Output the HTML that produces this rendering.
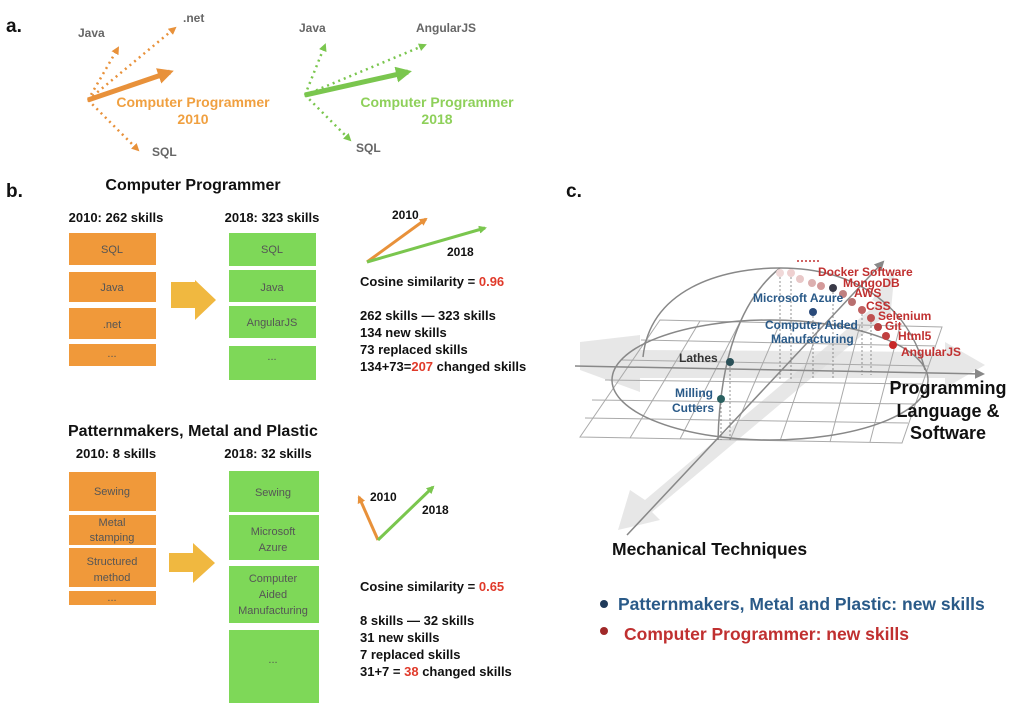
<!DOCTYPE html>
<html><head><meta charset="utf-8"><style>
body{margin:0;background:#fff;}
svg{display:block;font-family:"Liberation Sans",sans-serif;}
.b{font-weight:bold;}
</style></head><body>
<svg width="1018" height="705" viewBox="0 0 1018 705">
<defs>
<marker id="ao" markerWidth="8" markerHeight="8" refX="6" refY="4" orient="auto" markerUnits="userSpaceOnUse"><path d="M0,0 L8,4 L0,8z" fill="#e8913a"/></marker>
<marker id="ag" markerWidth="8" markerHeight="8" refX="6" refY="4" orient="auto" markerUnits="userSpaceOnUse"><path d="M0,0 L8,4 L0,8z" fill="#7ac64e"/></marker>
<marker id="ao2" markerWidth="16" markerHeight="16" refX="12" refY="8" orient="auto" markerUnits="userSpaceOnUse"><path d="M0,0 L16,8 L0,16z" fill="#e8913a"/></marker>
<marker id="ag2" markerWidth="16" markerHeight="16" refX="12" refY="8" orient="auto" markerUnits="userSpaceOnUse"><path d="M0,0 L16,8 L0,16z" fill="#7ac64e"/></marker>
<marker id="gr" markerWidth="10" markerHeight="10" refX="8" refY="5" orient="auto" markerUnits="userSpaceOnUse"><path d="M0,0 L10,5 L0,10z" fill="#888"/></marker>
</defs>
<g class="b" font-size="19" fill="#111"><text x="6" y="32">a.</text><text x="6" y="197">b.</text><text x="566" y="197">c.</text></g>

<!-- a -->
<g stroke="#e8913a" fill="none">
<line x1="88" y1="100" x2="118" y2="48" stroke-width="2.5" stroke-dasharray="2,4" marker-end="url(#ao)"/>
<line x1="88" y1="100" x2="175" y2="28" stroke-width="2.5" stroke-dasharray="2,4" marker-end="url(#ao)"/>
<line x1="88" y1="100" x2="138" y2="150" stroke-width="2.5" stroke-dasharray="2,4" marker-end="url(#ao)"/>
<line x1="88" y1="100" x2="170" y2="72" stroke-width="5" marker-end="url(#ao2)"/>
</g>
<g stroke="#7ac64e" fill="none">
<line x1="305" y1="95" x2="325" y2="45" stroke-width="2.5" stroke-dasharray="2,4" marker-end="url(#ag)"/>
<line x1="305" y1="95" x2="425" y2="45" stroke-width="2.5" stroke-dasharray="2,4" marker-end="url(#ag)"/>
<line x1="305" y1="95" x2="350" y2="140" stroke-width="2.5" stroke-dasharray="2,4" marker-end="url(#ag)"/>
<line x1="305" y1="95" x2="408" y2="72" stroke-width="5" marker-end="url(#ag2)"/>
</g>
<g class="b" font-size="12" fill="#666">
<text x="78" y="37">Java</text><text x="183" y="22">.net</text><text x="152" y="156">SQL</text>
<text x="299" y="32">Java</text><text x="416" y="32">AngularJS</text><text x="356" y="152">SQL</text>
</g>
<g class="b" font-size="14" text-anchor="middle">
<text x="193" y="107" fill="#f0a040">Computer Programmer</text><text x="193" y="124" fill="#f0a040">2010</text>
<text x="437" y="107" fill="#8ed05a">Computer Programmer</text><text x="437" y="124" fill="#8ed05a">2018</text>
</g>

<!-- b top -->
<g class="b" font-size="16" fill="#111">
<text x="193" y="190" text-anchor="middle">Computer Programmer</text>
<text x="116" y="222" text-anchor="middle" font-size="13">2010: 262 skills</text>
<text x="272" y="222" text-anchor="middle" font-size="13">2018: 323 skills</text>
</g>
<g fill="#f0993a"><rect x="69" y="233" width="87" height="32"/><rect x="69" y="272" width="87" height="30"/><rect x="69" y="308" width="87" height="31"/><rect x="69" y="344" width="87" height="22"/></g>
<g fill="#7ed858"><rect x="229" y="233" width="87" height="33"/><rect x="229" y="270" width="87" height="32"/><rect x="229" y="306" width="87" height="32"/><rect x="229" y="346" width="87" height="34"/></g>
<g font-size="11" text-anchor="middle" fill="#555">
<text x="112" y="253">SQL</text><text x="112" y="291">Java</text><text x="112" y="328">.net</text><text x="112" y="357">...</text>
<text x="272" y="253">SQL</text><text x="272" y="291">Java</text><text x="272" y="326">AngularJS</text><text x="272" y="360">...</text>
</g>
<path d="M171,282 H195 V280 L216,300 L195,320 V308 H171z" fill="#f0b840"/>
<line x1="367" y1="262" x2="426" y2="219" stroke="#e8913a" stroke-width="3" marker-end="url(#ao)"/>
<line x1="367" y1="262" x2="485" y2="228" stroke="#7ac64e" stroke-width="3" marker-end="url(#ag)"/>
<g class="b" font-size="13" fill="#111">
<text x="392" y="219" font-size="12">2010</text><text x="447" y="256" font-size="12">2018</text>
<text x="360" y="286">Cosine similarity = <tspan fill="#e03a2a">0.96</tspan></text>
<text x="360" y="320">262 skills — 323 skills</text>
<text x="360" y="337">134 new skills</text>
<text x="360" y="354">73 replaced skills</text>
<text x="360" y="371">134+73=<tspan fill="#e03a2a">207</tspan> changed skills</text>
</g>

<!-- b bottom -->
<g class="b" font-size="16" fill="#111">
<text x="68" y="436">Patternmakers, Metal and Plastic</text>
<text x="116" y="458" text-anchor="middle" font-size="13">2010: 8 skills</text>
<text x="268" y="458" text-anchor="middle" font-size="13">2018: 32 skills</text>
</g>
<g fill="#f0993a"><rect x="69" y="472" width="87" height="39"/><rect x="69" y="515" width="87" height="30"/><rect x="69" y="548" width="87" height="39"/><rect x="69" y="591" width="87" height="14"/></g>
<g fill="#7ed858"><rect x="229" y="471" width="90" height="41"/><rect x="229" y="515" width="90" height="45"/><rect x="229" y="566" width="90" height="57"/><rect x="229" y="630" width="90" height="73"/></g>
<g font-size="11" text-anchor="middle" fill="#555">
<text x="112" y="495">Sewing</text><text x="112" y="526">Metal</text><text x="112" y="541">stamping</text>
<text x="112" y="565">Structured</text><text x="112" y="581">method</text><text x="112" y="601">...</text>
<text x="273" y="496">Sewing</text><text x="273" y="535">Microsoft</text><text x="273" y="551">Azure</text>
<text x="273" y="582">Computer</text><text x="273" y="598">Aided</text><text x="273" y="614">Manufacturing</text><text x="273" y="663">...</text>
</g>
<path d="M169,553 H193 V543 L215,563 L193,583 V572 H169z" fill="#f0b840"/>
<line x1="378" y1="540" x2="359" y2="497" stroke="#e8913a" stroke-width="3" marker-end="url(#ao)"/>
<line x1="378" y1="540" x2="433" y2="487" stroke="#7ac64e" stroke-width="3" marker-end="url(#ag)"/>
<g class="b" font-size="13" fill="#111">
<text x="370" y="501" font-size="12">2010</text><text x="422" y="514" font-size="12">2018</text>
<text x="360" y="591">Cosine similarity = <tspan fill="#e03a2a">0.65</tspan></text>
<text x="360" y="625">8 skills — 32 skills</text>
<text x="360" y="642">31 new skills</text>
<text x="360" y="659">7 replaced skills</text>
<text x="360" y="676">31+7 = <tspan fill="#e03a2a">38</tspan> changed skills</text>
</g>

<!-- c -->
<path d="M580,342 L640,335 L640,350 L945,352 L945,342 L985,365 L945,388 L945,378 L640,378 L640,392 L580,370z" fill="#ddd" opacity="0.7"/>
<path d="M895,268 L872,300 L878,303 L645,500 L630,490 L618,530 L660,520 L652,512 L885,316 L890,320z" fill="#ddd" opacity="0.7"/>
<g stroke="#aaa" fill="none" stroke-width="1">
<path d="M660,320 L942,327 L902,443 L580,437z"/>
<path d="M641,340 L936,346 M622,360 L929,366 M605,380 L922,384 M592,400 L915,404 M585,418 L908,423"/>
<path d="M700,321 L630,438 M740,322 L680,439 M780,323 L730,440 M820,324 L780,441 M860,325 L830,442 M900,326 L870,442"/>
</g>
<g stroke="#888" fill="none" stroke-width="1.5">
<ellipse cx="770" cy="380" rx="158" ry="60"/>
<path d="M643,357 C650,290 720,268 780,268 C860,268 910,310 925,370"/>
<path d="M718,440 C720,360 740,300 780,268"/>
<line x1="575" y1="366" x2="983" y2="374" marker-end="url(#gr)"/>
<line x1="627" y1="535" x2="883" y2="262" marker-end="url(#gr)"/>
</g>
<g stroke="#777" stroke-dasharray="2,2" stroke-width="0.8">
<line x1="780" y1="273" x2="780" y2="380"/><line x1="791" y1="273" x2="791" y2="380"/><line x1="813" y1="312" x2="813" y2="380"/><line x1="833" y1="288" x2="833" y2="380"/><line x1="862" y1="310" x2="862" y2="375"/><line x1="871" y1="318" x2="871" y2="375"/><line x1="730" y1="362" x2="730" y2="440"/><line x1="721" y1="399" x2="721" y2="440"/>
</g>
<line x1="797" y1="261" x2="819" y2="261" stroke="#c03030" stroke-dasharray="2,2" stroke-width="1.5"/>
<g>
<circle cx="780" cy="273" r="4" fill="#f0d8d8"/><circle cx="791" cy="273" r="4" fill="#eed0d0"/><circle cx="800" cy="279" r="4" fill="#e8c8c8"/><circle cx="812" cy="283" r="4" fill="#dcb0b0"/><circle cx="821" cy="286" r="4" fill="#d49a9a"/>
<circle cx="833" cy="288" r="4" fill="#3a3a48"/><circle cx="843" cy="294" r="4" fill="#c08080"/><circle cx="852" cy="302" r="4" fill="#b87070"/><circle cx="862" cy="310" r="4" fill="#c06060"/><circle cx="871" cy="318" r="4" fill="#c05050"/><circle cx="878" cy="327" r="4" fill="#b84040"/><circle cx="886" cy="336" r="4" fill="#c04040"/><circle cx="893" cy="345" r="4" fill="#c82828"/>
<circle cx="813" cy="312" r="4" fill="#2a4a7a"/><circle cx="730" cy="362" r="4" fill="#2a5058"/><circle cx="721" cy="399" r="4" fill="#2a6060"/>
</g>
<g class="b" font-size="12">
<g fill="#c03030"><text x="818" y="276">Docker Software</text><text x="843" y="287">MongoDB</text><text x="854" y="297">AWS</text><text x="866" y="310">CSS</text><text x="878" y="320">Selenium</text><text x="885" y="330">Git</text><text x="898" y="340">Html5</text><text x="901" y="356">AngularJS</text></g>
<g fill="#2a5a88"><text x="753" y="302">Microsoft Azure</text><text x="765" y="329">Computer Aided</text><text x="771" y="343">Manufacturing</text><text x="675" y="397">Milling</text><text x="672" y="412">Cutters</text></g>
<text x="679" y="362" fill="#333">Lathes</text>
</g>
<g class="b" font-size="18" fill="#111" text-anchor="middle"><text x="948" y="394">Programming</text><text x="948" y="417">Language &amp;</text><text x="948" y="439">Software</text></g>
<text x="612" y="555" class="b" font-size="17.5" fill="#111">Mechanical Techniques</text>
<circle cx="604" cy="604" r="4" fill="#1f3a5a"/><text x="618" y="610" class="b" font-size="17.5" fill="#2a5a88">Patternmakers, Metal and Plastic: new skills</text>
<circle cx="604" cy="631" r="4" fill="#a02828"/><text x="624" y="640" class="b" font-size="17.5" fill="#c03030">Computer Programmer: new skills</text>
</svg>
</body></html>
